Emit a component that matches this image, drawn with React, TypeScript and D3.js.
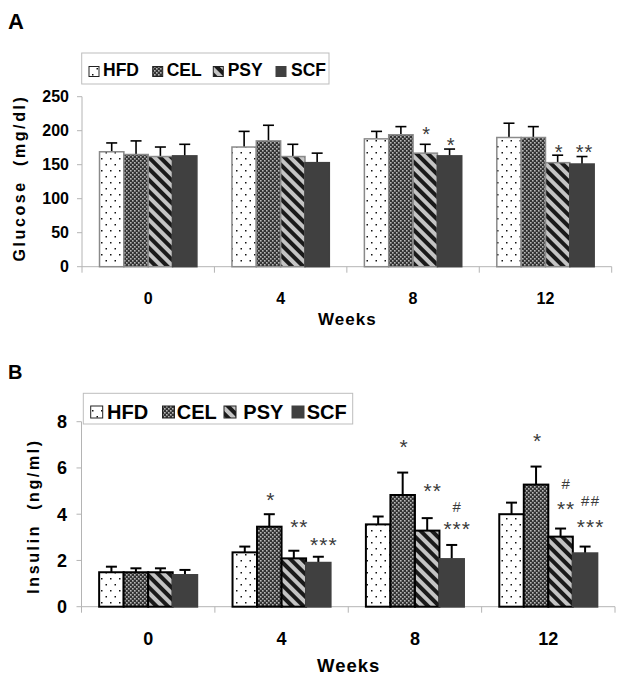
import React from 'react';
import * as d3 from 'd3';

// ---------- DATA ----------
const weeks = ['0', '4', '8', '12'];
const groups = ['HFD', 'CEL', 'PSY', 'SCF'];

// Panel A: glucose (mg/dl), mean and SD
const glucoseHFD = [169, 176, 188, 190];
const glucoseCEL = [165, 185, 194, 190];
const glucosePSY = [162, 162, 167, 153];
const glucoseSCF = [163, 153, 163, 151];
const glucoseHFDErr = [13, 23, 11, 21];
const glucoseCELErr = [20, 23, 12, 16];
const glucosePSYErr = [14, 18, 13, 11];
const glucoseSCFErr = [17, 14, 10, 11];
const glucoseTicks = [0, 50, 100, 150, 200, 250];

// Panel B: insulin (ng/ml), mean and SD
const insulinHFD = [1.49, 2.35, 3.56, 4.0];
const insulinCEL = [1.49, 3.46, 4.83, 5.28];
const insulinPSY = [1.49, 2.09, 3.29, 3.03];
const insulinSCF = [1.37, 1.9, 2.06, 2.31];
const insulinHFDErr = [0.24, 0.25, 0.34, 0.5];
const insulinCELErr = [0.17, 0.54, 0.97, 0.78];
const insulinPSYErr = [0.17, 0.33, 0.54, 0.35];
const insulinSCFErr = [0.22, 0.26, 0.61, 0.29];
const insulinTicks = [0, 2, 4, 6, 8];

// significance marks: week, group, text, level (data units at glyph centre)
const glucoseMarks = [
  { week: '8', group: 'PSY', text: '*', level: 202 },
  { week: '8', group: 'SCF', text: '*', level: 186 },
  { week: '12', group: 'PSY', text: '*', level: 176 },
  { week: '12', group: 'SCF', text: '**', level: 176 },
];
const insulinMarks = [
  { week: '4', group: 'CEL', text: '*', level: 4.84 },
  { week: '4', group: 'PSY', text: '**', level: 3.68 },
  { week: '4', group: 'SCF', text: '***', level: 2.89 },
  { week: '8', group: 'CEL', text: '*', level: 7.12 },
  { week: '8', group: 'PSY', text: '**', level: 5.23 },
  { week: '8', group: 'SCF', text: '#', level: 4.33 },
  { week: '8', group: 'SCF', text: '***', level: 3.58 },
  { week: '12', group: 'CEL', text: '*', level: 7.4 },
  { week: '12', group: 'PSY', text: '#', level: 5.31 },
  { week: '12', group: 'PSY', text: '**', level: 4.43 },
  { week: '12', group: 'SCF', text: '##', level: 4.59 },
  { week: '12', group: 'SCF', text: '***', level: 3.65 },
];

// ---------- STYLE ----------
const FONT = "'Liberation Sans', Arial, Helvetica, sans-serif";
const AXIS = '#b4b4b4';
const fills: Record<string, string> = {
  HFD: 'url(#patHFD)',
  CEL: 'url(#patCEL)',
  PSY: 'url(#patPSY)',
  SCF: '#404040',
};

type Cfg = {
  means: number[][];
  errs: number[][];
  ticks: number[];
  marks: { week: string; group: string; text: string; level: number }[];
  left: number;
  right: number;
  y0: number;
  yTop: number;
  yMax: number;
  barStroke: string;
  barStrokeW: number;
  errW: number;
  tickSize: number;
  tickRight: number;
  xLabelY: number;
  xLabelSize: number;
  weeksY: number;
  weeksSize: number;
  yLabel: string;
  yLabelX: number;
  yLabelY: number;
  legendBox: [number, number, number, number];
  legendMarkX: number[];
  legendTextX: number[];
  legendMarkSize: number;
  legendMarkY: number;
  legendTextY: number;
  legendSize: number;
  markDx: number;
  starSize: number;
};

function Panel({ c }: { c: Cfg }) {
  const x0 = d3.scaleBand().domain(weeks).range([c.left, c.right]).padding(0);
  const x1 = d3
    .scaleBand()
    .domain(groups)
    .range([0, x0.bandwidth()])
    .paddingInner(0)
    .paddingOuter(0.72);
  const y = d3.scaleLinear().domain([0, c.yMax]).range([c.y0, c.yTop]);
  const bw = x1.bandwidth();
  const bounds = [...weeks.map((w) => x0(w) as number), c.right];

  return (
    <g>
      {/* axes */}
      <line x1={c.left} x2={c.left} y1={y(0)} y2={y(c.yMax)} stroke={AXIS} strokeWidth={1} />
      <line x1={c.left} x2={c.right} y1={y(0)} y2={y(0)} stroke={AXIS} strokeWidth={1} />
      {c.ticks.map((t) => (
        <g key={'yt' + t}>
          <line x1={c.left - 5} x2={c.left} y1={y(t)} y2={y(t)} stroke={AXIS} />
          <text
            x={c.tickRight}
            y={y(t) + c.tickSize * 0.36}
            textAnchor="end"
            fontFamily={FONT}
            fontWeight="bold"
            fontSize={c.tickSize}
          >
            {t}
          </text>
        </g>
      ))}
      {bounds.map((b, i) => (
        <line key={'xt' + i} x1={b} x2={b} y1={y(0)} y2={y(0) + 6} stroke={AXIS} />
      ))}
      {weeks.map((w) => (
        <text
          key={'xl' + w}
          x={(x0(w) as number) + x0.bandwidth() / 2}
          y={c.xLabelY}
          textAnchor="middle"
          fontFamily={FONT}
          fontWeight="bold"
          fontSize={c.xLabelSize}
        >
          {w}
        </text>
      ))}
      <text
        x={(c.left + c.right) / 2 + 0.5}
        y={c.weeksY}
        textAnchor="middle"
        fontFamily={FONT}
        fontWeight="bold"
        fontSize={c.weeksSize}
        letterSpacing={1}
      >
        Weeks
      </text>
      <text
        transform={`translate(${c.yLabelX},${c.yLabelY}) rotate(-90)`}
        textAnchor="middle"
        fontFamily={FONT}
        fontWeight="bold"
        fontSize={16}
        letterSpacing={2.6}
        style={{ whiteSpace: 'pre' }}
      >
        {c.yLabel}
      </text>

      {/* bars */}
      {groups.map((g, gi) =>
        weeks.map((w, wi) => {
          const v = c.means[gi][wi];
          const e = c.errs[gi][wi];
          const bx = (x0(w) as number) + (x1(g) as number);
          const cx = bx + bw / 2;
          return (
            <g key={g + w}>
              <line x1={cx} x2={cx} y1={y(v)} y2={y(v + e)} stroke="#000" strokeWidth={c.errW} />
              <line x1={cx - 5.5} x2={cx + 5.5} y1={y(v + e)} y2={y(v + e)} stroke="#000" strokeWidth={c.errW} />
              <rect
                x={bx}
                y={y(v)}
                width={bw}
                height={y(0) - y(v)}
                fill={fills[g]}
                stroke={g === 'SCF' ? '#404040' : c.barStroke}
                strokeWidth={c.barStrokeW}
              />
            </g>
          );
        })
      )}

      {/* significance marks */}
      {c.marks.map((m, i) => {
        const star = m.text.includes('*');
        const fs = star ? c.starSize : 15;
        const ls = star ? 1 : 1.5;
        const cx =
          (x0(m.week) as number) + (x1(m.group) as number) + bw / 2 + (m.text === '*' ? 1 : c.markDx) + ls / 2;
        return (
          <text
            key={'m' + i}
            x={cx}
            y={y(m.level) + fs * (star ? 0.58 : 0.36)}
            textAnchor="middle"
            fontFamily={FONT}
            fontSize={fs}
            fill="#3a3a3a"
            letterSpacing={ls}
          >
            {m.text}
          </text>
        );
      })}

      {/* legend */}
      <rect
        x={c.legendBox[0]}
        y={c.legendBox[1]}
        width={c.legendBox[2]}
        height={c.legendBox[3]}
        fill="#fff"
        stroke="#bdbdbd"
        strokeWidth={1}
      />
      {groups.map((g, i) => (
        <g key={'lg' + g}>
          <rect
            x={c.legendMarkX[i]}
            y={c.legendMarkY}
            width={c.legendMarkSize}
            height={c.legendMarkSize}
            fill={fills[g]}
            stroke={g === 'SCF' ? '#404040' : '#222'}
            strokeWidth={1}
          />
          <text
            x={c.legendTextX[i]}
            y={c.legendTextY}
            fontFamily={FONT}
            fontWeight="bold"
            fontSize={c.legendSize}
          >
            {g}
          </text>
        </g>
      ))}
    </g>
  );
}

const cfgA: Cfg = {
  means: [glucoseHFD, glucoseCEL, glucosePSY, glucoseSCF],
  errs: [glucoseHFDErr, glucoseCELErr, glucosePSYErr, glucoseSCFErr],
  ticks: glucoseTicks,
  marks: glucoseMarks,
  left: 82,
  right: 611.7,
  y0: 266.7,
  yTop: 96.7,
  yMax: 250,
  barStroke: '#8a8a8a',
  barStrokeW: 1.5,
  errW: 1.6,
  tickSize: 16,
  tickRight: 69,
  xLabelY: 303.5,
  xLabelSize: 16,
  weeksY: 325,
  weeksSize: 17,
  yLabel: 'Glucose  (mg/dl)',
  yLabelX: 25,
  yLabelY: 178,
  legendBox: [81.7, 53, 247.3, 31],
  legendMarkX: [89, 152.7, 213.3, 276],
  legendTextX: [103, 166.7, 227.7, 291],
  legendMarkSize: 10,
  legendMarkY: 66.5,
  legendTextY: 76,
  legendSize: 17.5,
  markDx: 2,
  starSize: 20,
};

const cfgB: Cfg = {
  means: [insulinHFD, insulinCEL, insulinPSY, insulinSCF],
  errs: [insulinHFDErr, insulinCELErr, insulinPSYErr, insulinSCFErr],
  ticks: insulinTicks,
  marks: insulinMarks,
  left: 81.5,
  right: 615,
  y0: 606.7,
  yTop: 421.7,
  yMax: 8,
  barStroke: '#000',
  barStrokeW: 2,
  errW: 2,
  tickSize: 18,
  tickRight: 67,
  xLabelY: 645,
  xLabelSize: 18,
  weeksY: 671.5,
  weeksSize: 18.5,
  yLabel: 'Insulin  (ng/ml)',
  yLabelX: 38.5,
  yLabelY: 516,
  legendBox: [83.3, 393.3, 269.4, 30.7],
  legendMarkX: [90.7, 162.5, 224, 292],
  legendTextX: [107, 176.7, 243.3, 306.7],
  legendMarkSize: 12,
  legendMarkY: 406,
  legendTextY: 418.5,
  legendSize: 20,
  markDx: 5,
  starSize: 21,
};

export default function App() {
  return (
    <svg
      width={624}
      height={681}
      viewBox="0 0 624 681"
      style={{ position: 'absolute', left: 0, top: 0, display: 'block', background: '#fff' }}
    >
      <defs>
        <pattern id="patHFD" patternUnits="userSpaceOnUse" width={9} height={12}>
          <rect width={9} height={12} fill="#fff" />
          <rect x={2} y={2} width={1.5} height={1.5} fill="#111" />
          <rect x={6.5} y={8} width={1.5} height={1.5} fill="#111" />
        </pattern>
        <pattern id="patCEL" patternUnits="userSpaceOnUse" width={4} height={4}>
          <rect width={4} height={4} fill="#333" />
          <rect x={0} y={0} width={1.6} height={1.6} fill="#b8b8b8" />
          <rect x={2} y={2} width={1.6} height={1.6} fill="#b8b8b8" />
        </pattern>
        <pattern
          id="patPSY"
          patternUnits="userSpaceOnUse"
          width={8}
          height={8}
          patternTransform="rotate(-45)"
        >
          <rect width={8} height={8} fill="#c4c4c4" />
          <rect x={0} y={0} width={4} height={8} fill="#1a1a1a" />
        </pattern>
      </defs>
      <rect width={624} height={681} fill="#fff" />
      <text x={8} y={29} fontFamily={FONT} fontWeight="bold" fontSize={22}>
        A
      </text>
      <text x={8} y={378.5} fontFamily={FONT} fontWeight="bold" fontSize={20}>
        B
      </text>
      <Panel c={cfgA} />
      <Panel c={cfgB} />
    </svg>
  );
}
